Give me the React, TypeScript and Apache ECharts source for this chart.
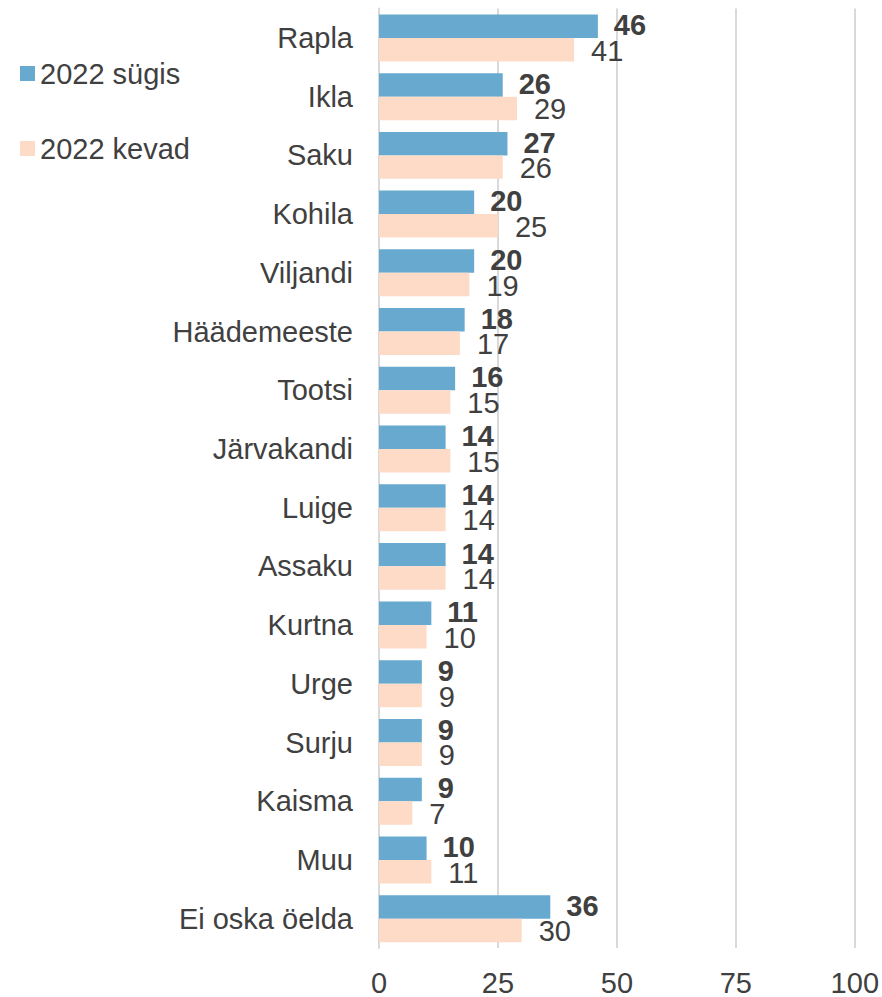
import React, { useEffect, useRef } from "react";
import * as echarts from "echarts";

const categories = [
  "Rapla", "Ikla", "Saku", "Kohila", "Viljandi", "Häädemeeste", "Tootsi", "Järvakandi",
  "Luige", "Assaku", "Kurtna", "Urge", "Surju", "Kaisma", "Muu", "Ei oska öelda",
];
const sugis2022 = [46, 26, 27, 20, 20, 18, 16, 14, 14, 14, 11, 9, 9, 9, 10, 36];
const kevad2022 = [41, 29, 26, 25, 19, 17, 15, 15, 14, 14, 10, 9, 9, 7, 11, 30];
const seriesNames = ["2022 sügis", "2022 kevad"];
const xTicks = { min: 0, max: 100, interval: 25 };

const FONT = "'Liberation Sans', Arial, sans-serif";
const TXT = "#404040";
const FS = 29;

export default function App() {
  const ref = useRef<HTMLDivElement>(null);
  useEffect(() => {
    if (!ref.current) return;
    const chart = echarts.init(ref.current, null, { renderer: "svg" });
    chart.setOption({
      animation: false,
      textStyle: { fontFamily: FONT },
      legend: {
        orient: "vertical",
        left: 15,
        top: 54,
        itemWidth: 15,
        itemHeight: 15,
        itemGap: 46,
        icon: "rect",
        textStyle: { fontSize: FS, lineHeight: 28, color: TXT, fontFamily: FONT },
        data: seriesNames,
      },
      grid: { left: 379, right: 27, top: 8.6, bottom: 47, containLabel: false },
      xAxis: {
        type: "value",
        min: xTicks.min,
        max: xTicks.max,
        interval: xTicks.interval,
        axisLine: { show: false },
        axisTick: { show: false },
        splitLine: { show: true, lineStyle: { color: "#d9d9d9", width: 2 } },
        axisLabel: { fontSize: FS, color: TXT, margin: 20, fontFamily: FONT },
      },
      yAxis: {
        type: "category",
        inverse: true,
        data: categories,
        axisLine: { show: true, lineStyle: { color: "#d9d9d9", width: 2 } },
        axisTick: { show: false },
        axisLabel: { fontSize: FS, color: TXT, margin: 26, fontFamily: FONT, padding: [4, 0, 0, 0] },
      },
      series: [
        {
          name: seriesNames[0],
          type: "bar",
          data: sugis2022,
          barGap: "0%",
          barCategoryGap: "20%",
          itemStyle: { color: "#67a9cf" },
          label: {
            show: true,
            position: "right",
            distance: 16,
            offset: [0, -1],
            fontSize: FS,
            lineHeight: 20,
            fontWeight: "bold",
            color: TXT,
            fontFamily: FONT,
          },
        },
        {
          name: seriesNames[1],
          type: "bar",
          data: kevad2022,
          barGap: "0%",
          barCategoryGap: "20%",
          itemStyle: { color: "#fddbc7" },
          label: {
            show: true,
            position: "right",
            distance: 17,
            offset: [0, 1],
            fontSize: FS,
            lineHeight: 20,
            color: TXT,
            fontFamily: FONT,
          },
        },
      ],
    });
    return () => chart.dispose();
  }, []);
  return <div ref={ref} style={{ width: 882, height: 997, position: "absolute", left: 0, top: 0 }} />;
}
